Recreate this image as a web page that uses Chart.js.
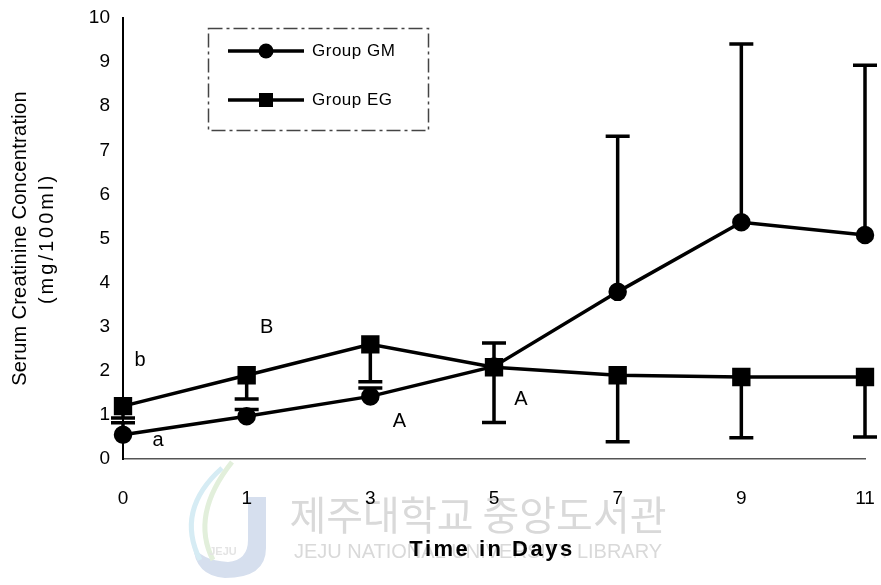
<!DOCTYPE html>
<html><head><meta charset="utf-8">
<script src="https://cdn.jsdelivr.net/npm/chart.js@4"></script>
<style>html,body{margin:0;padding:0;background:#fff}#wrap{width:881px;height:585px;position:relative}</style>
</head><body><div id="wrap"><canvas id="c" width="881" height="585"></canvas></div>
<script>
// ---- data ----
const days = ['0', '1', '3', '5', '7', '9', '11'];
const gmMean = [0.55, 0.97, 1.42, 2.10, 3.79, 5.37, 5.08];
const gmSD   = [0.27, 0.15, 0.19, 0.53, 3.53, 4.04, 3.85];   // drawn upward
const egMean = [1.20, 1.90, 2.60, 2.08, 1.90, 1.86, 1.86];
const egSD   = [0.27, 0.54, 0.85, 1.25, 1.51, 1.38, 1.36];   // drawn downward
const yTickValues = [0, 1, 2, 3, 4, 5, 6, 7, 8, 9, 10];
const seriesNames = ['Group GM', 'Group EG'];
const xTitle = 'Time in Days';
const yTitle = ['Serum Creatinine Concentration', '(mg/100ml)'];
const letters = ['b', 'a', 'B', 'A', 'A'];
const letterDay = [0, 0, 1, 2, 3];          // category index
const letterValue = [2.24, 0.41, 2.99, 0.84, 1.36];

const FONT = '"Liberation Sans", Arial, sans-serif';

const errorBars = {
  id: 'errorBars',
  afterDatasetsDraw(chart) {
    const {ctx, scales: {x, y}} = chart;
    ctx.save();
    ctx.strokeStyle = '#000';
    ctx.lineWidth = 3.5;
    const cap = 12;
    const draw = (means, sds, dir) => {
      means.forEach((m, i) => {
        const px = x.getPixelForValue(i);
        const y0 = y.getPixelForValue(m);
        const y1 = y.getPixelForValue(m + dir * sds[i]);
        ctx.beginPath();
        ctx.moveTo(px, y0); ctx.lineTo(px, y1);
        ctx.moveTo(px - cap, y1); ctx.lineTo(px + cap, y1);
        ctx.stroke();
      });
    };
    draw(gmMean, gmSD, 1);
    draw(egMean, egSD, -1);
    ctx.restore();
  }
};

const annotations = {
  id: 'annotations',
  afterDraw(chart) {
    const {ctx, scales: {x, y}, chartArea} = chart;
    const dx = [17, 35, 20, 29, 27];
    ctx.save();
    ctx.fillStyle = '#000';
    ctx.font = '20px ' + FONT;
    ctx.textAlign = 'center';
    ctx.textBaseline = 'middle';
    letters.forEach((t, k) => {
      ctx.fillText(t, x.getPixelForValue(letterDay[k]) + dx[k], y.getPixelForValue(letterValue[k]));
    });
    // axis titles
    ctx.font = 'bold 22px ' + FONT;
    ctx.letterSpacing = '2.5px';
    ctx.fillText(xTitle, (chartArea.left + chartArea.right) / 2 - 2, 550);
    ctx.font = '20px ' + FONT;
    ctx.letterSpacing = '0.3px';
    const cy = (chartArea.top + chartArea.bottom) / 2;
    ctx.translate(20, cy);
    ctx.rotate(-Math.PI / 2);
    ctx.fillText(yTitle[0], 0, 0);
    ctx.letterSpacing = '3px';
    ctx.fillText(yTitle[1], 0, 27);
    ctx.restore();
  }
};

const boxLegend = {
  id: 'boxLegend',
  afterDraw(chart) {
    const ctx = chart.ctx;
    ctx.save();
    ctx.strokeStyle = '#444';
    ctx.lineWidth = 1.5;
    ctx.setLineDash([14, 4, 3, 4]);
    ctx.strokeRect(208.5, 28.5, 220, 102);
    ctx.setLineDash([]);
    const rows = [51, 100];
    chart.data.datasets.forEach((ds, i) => {
      const yy = rows[i];
      ctx.strokeStyle = '#000';
      ctx.lineWidth = 3.5;
      ctx.beginPath(); ctx.moveTo(228, yy); ctx.lineTo(304, yy); ctx.stroke();
      ctx.fillStyle = '#000';
      if (ds.pointStyle === 'circle') {
        ctx.beginPath(); ctx.arc(266, yy, 7.5, 0, Math.PI * 2); ctx.fill();
      } else {
        ctx.fillRect(259, yy - 7, 14, 14);
      }
      ctx.font = '17px ' + FONT;
      ctx.letterSpacing = '0.5px';
      ctx.textAlign = 'left';
      ctx.textBaseline = 'middle';
      ctx.fillText(ds.label, 312, yy);
    });
    ctx.restore();
  }
};

const watermark = {
  id: 'watermark',
  beforeDraw(chart) {
    const ctx = chart.ctx;
    ctx.save();
    // faint library logo
    ctx.fillStyle = '#d6dfee';
    ctx.beginPath();
    ctx.moveTo(248, 497); ctx.lineTo(266, 497); ctx.lineTo(266, 548);
    ctx.quadraticCurveTo(266, 578, 225, 578);
    ctx.quadraticCurveTo(195, 576, 193, 545);
    ctx.quadraticCurveTo(200, 560, 228, 562);
    ctx.quadraticCurveTo(248, 560, 248, 540);
    ctx.closePath(); ctx.fill();
    ctx.lineWidth = 5;
    ctx.strokeStyle = '#d6ecf4';
    ctx.beginPath(); ctx.moveTo(222, 468); ctx.quadraticCurveTo(175, 510, 200, 560); ctx.stroke();
    ctx.strokeStyle = '#e2efdb';
    ctx.beginPath(); ctx.moveTo(232, 462); ctx.quadraticCurveTo(190, 515, 213, 560); ctx.stroke();
    ctx.fillStyle = '#e4e4e4';
    ctx.font = 'bold 11px ' + FONT;
    ctx.textAlign = 'center';
    ctx.fillText('JEJU', 223, 555);
    // faint library text
    ctx.fillStyle = '#d9d9d9';
    ctx.textAlign = 'center';
    ctx.textBaseline = 'middle';
    ctx.font = '40px "Noto Sans CJK KR"';
    ctx.fillText('제주대학교 중앙도서관', 478, 515);
    ctx.font = '20px ' + FONT;
    ctx.fillText('JEJU NATIONAL UNIVERSITY LIBRARY', 478, 552);
    ctx.restore();
  }
};

new Chart(document.getElementById('c'), {
  type: 'line',
  data: {
    labels: days,
    datasets: [
      { label: seriesNames[0], data: gmMean, borderColor: '#000', backgroundColor: '#000',
        borderWidth: 3.5, pointStyle: 'circle', pointRadius: 7.5, pointHoverRadius: 7.5, tension: 0 },
      { label: seriesNames[1], data: egMean, borderColor: '#000', backgroundColor: '#000',
        borderWidth: 3.5, pointStyle: 'rect', pointRadius: 10.5, pointHoverRadius: 10.5, tension: 0 }
    ]
  },
  options: {
    responsive: false,
    animation: false,
    devicePixelRatio: 1,
    layout: { autoPadding: false, padding: { left: 0, right: 16, top: 18, bottom: 0 } },
    plugins: { legend: { display: false }, tooltip: { enabled: false } },
    scales: {
      x: {
        offset: false,
        grid: { display: false, drawTicks: false },
        border: { display: true, color: '#555', width: 1.5, dash: [10, 9] },
        ticks: { color: '#000', font: { family: FONT, size: 19 }, padding: 28, maxRotation: 0 },
        afterFit(s) { s.height = 126; s.paddingLeft = 0; s.paddingRight = 0; }
      },
      y: {
        min: 0, max: 10,
        afterBuildTicks(s) { s.ticks = yTickValues.map(v => ({ value: v })); },
        grid: { display: false, drawTicks: false },
        border: { display: true, color: '#000', width: 2 },
        ticks: { color: '#000', font: { family: FONT, size: 19 }, padding: 13 },
        afterFit(s) { s.width = 123; s.paddingTop = 0; s.paddingBottom = 0; }
      }
    }
  },
  plugins: [watermark, errorBars, annotations, boxLegend]
});
</script>
</body></html>
